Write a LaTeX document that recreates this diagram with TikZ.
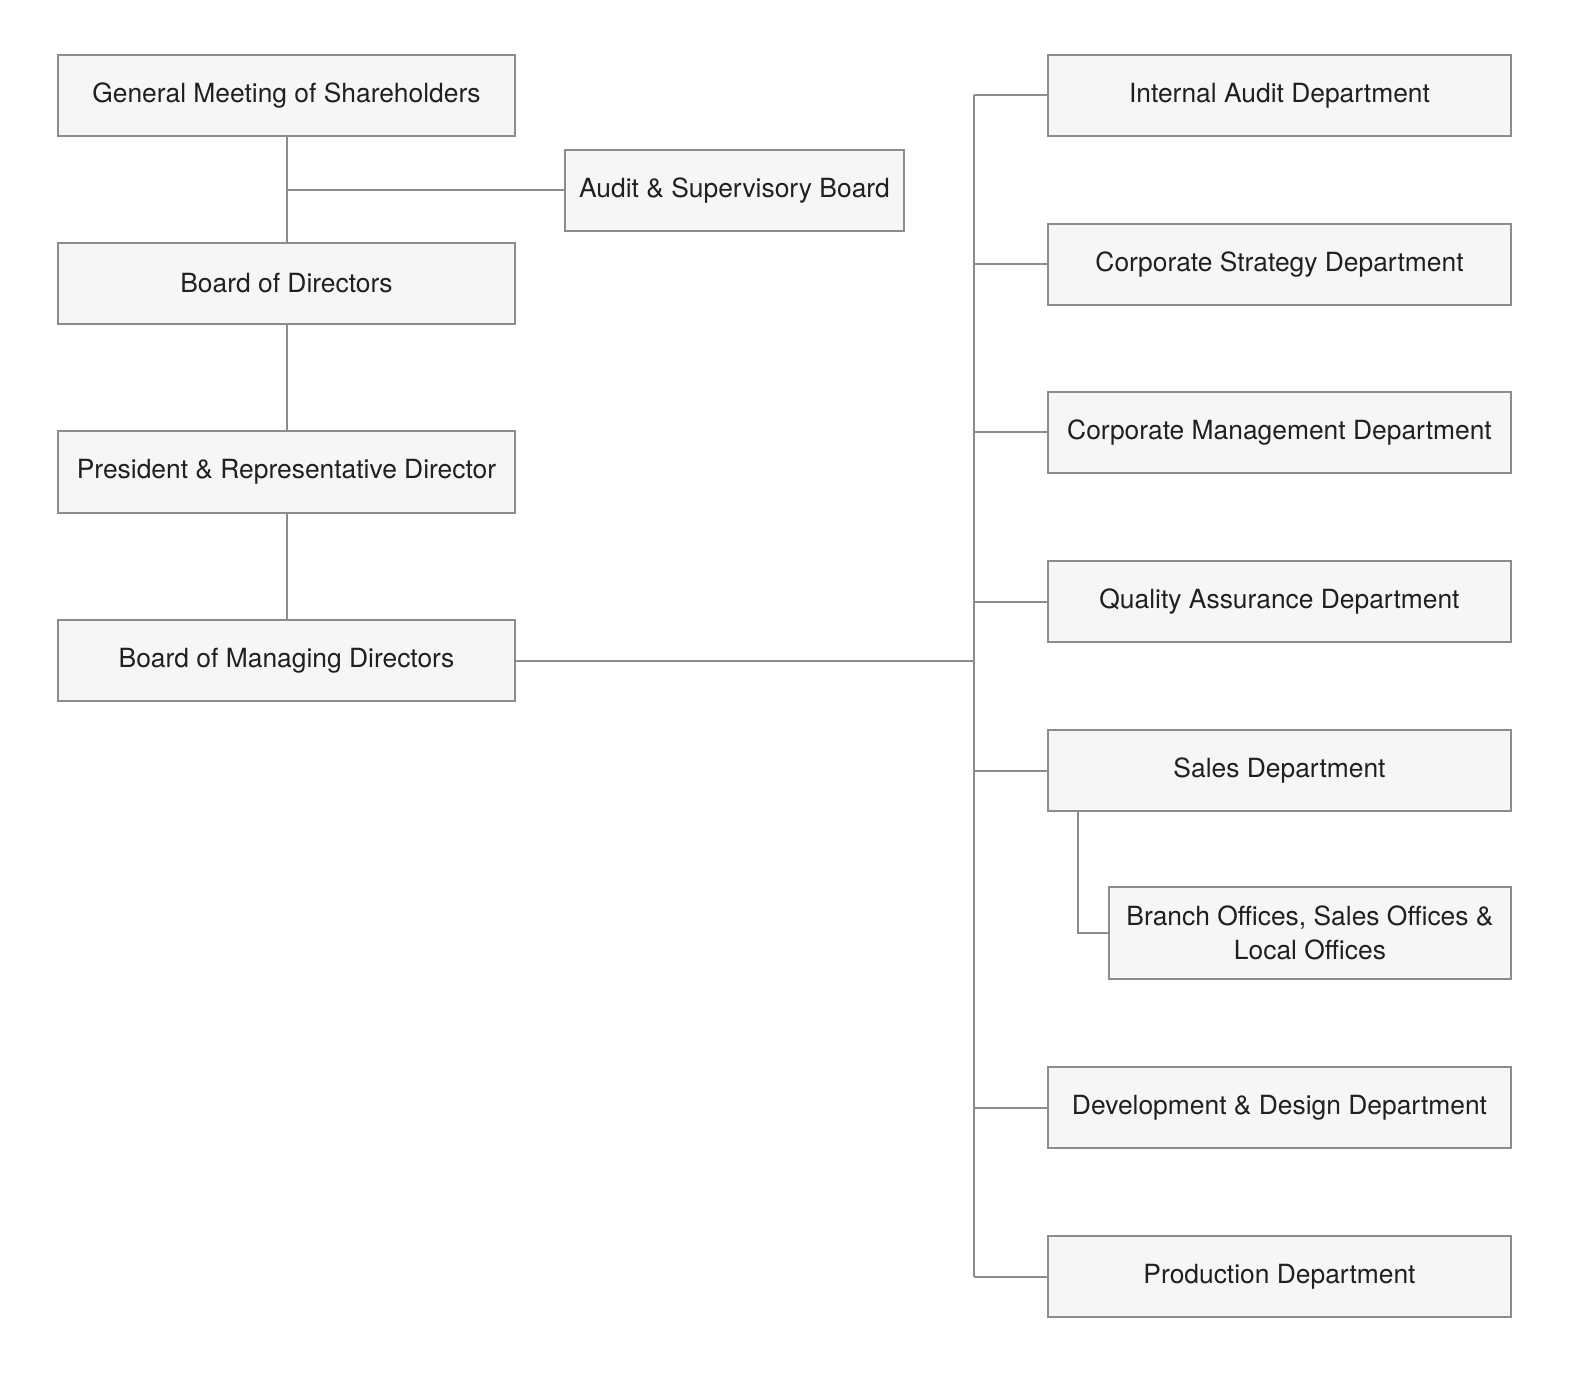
\documentclass[tikz,border=0pt]{standalone}
\usepackage{fontspec}
\setmainfont{TeX Gyre Heros}
\definecolor{boxfill}{HTML}{F6F6F6}
\definecolor{boxline}{HTML}{8C8C8C}
\definecolor{txt}{HTML}{231F20}
\begin{document}
\begin{tikzpicture}[x=0.5pt,y=-0.5pt,
  box/.style={draw=boxline,fill=boxfill,line width=1pt,inner sep=0pt,align=center,text=txt,font=\fontsize{13.2}{17}\selectfont},
  lbox/.style={box,minimum width=228.5pt,minimum height=40.5pt},
  rbox/.style={box,minimum width=231.5pt,minimum height=40.5pt},
  conn/.style={draw=boxline,line width=1pt}]
\useasboundingbox[fill=white] (0,0) rectangle (1588,1395);
% left column
\node[lbox] (gms) at (286.5,95.5) {General Meeting of Shareholders};
\node[box,minimum width=169.5pt,minimum height=40.5pt] (asb) at (734.5,190.5) {Audit \& Supervisory Board};
\node[lbox] (bod) at (286.5,283.5) {Board of Directors};
\node[lbox] (prd) at (286.5,472) {President \& Representative Director};
\node[lbox] (bmd) at (286.5,660.5) {Board of Managing Directors};
% right column
\node[rbox] (iad) at (1279.5,95.5) {Internal Audit Department};
\node[rbox] (csd) at (1279.5,264.5) {Corporate Strategy Department};
\node[rbox] (cmd) at (1279.5,432.5) {Corporate Management Department};
\node[rbox] (qad) at (1279.5,601.5) {Quality Assurance Department};
\node[rbox] (sd) at (1279.5,770.5) {Sales Department};
\node[box,minimum width=201pt,minimum height=46pt] (bso) at (1310,933) {Branch Offices, Sales Offices \&\\Local Offices};
\node[rbox] (ddd) at (1279.5,1107.5) {Development \& Design Department};
\node[rbox] (pd) at (1279.5,1276.5) {Production Department};
% connectors
\coordinate (spine) at (974,0);
\coordinate (subx) at (1078,0);
\draw[conn] (gms.south) -- (bod.north);
\draw[conn] (gms.south |- asb.west) -- (asb.west);
\draw[conn] (bod.south) -- (prd.north);
\draw[conn] (prd.south) -- (bmd.north);
\draw[conn] (bmd.east) -- (spine |- bmd.east);
\draw[conn] (spine |- iad.west) -- (spine |- pd.west);
\foreach \n in {iad,csd,cmd,qad,sd,ddd,pd}{\draw[conn] (spine |- \n.west) -- (\n.west);}
\draw[conn] (subx |- sd.south) -- (subx |- bso.west) -- (bso.west);
\end{tikzpicture}
\end{document}
